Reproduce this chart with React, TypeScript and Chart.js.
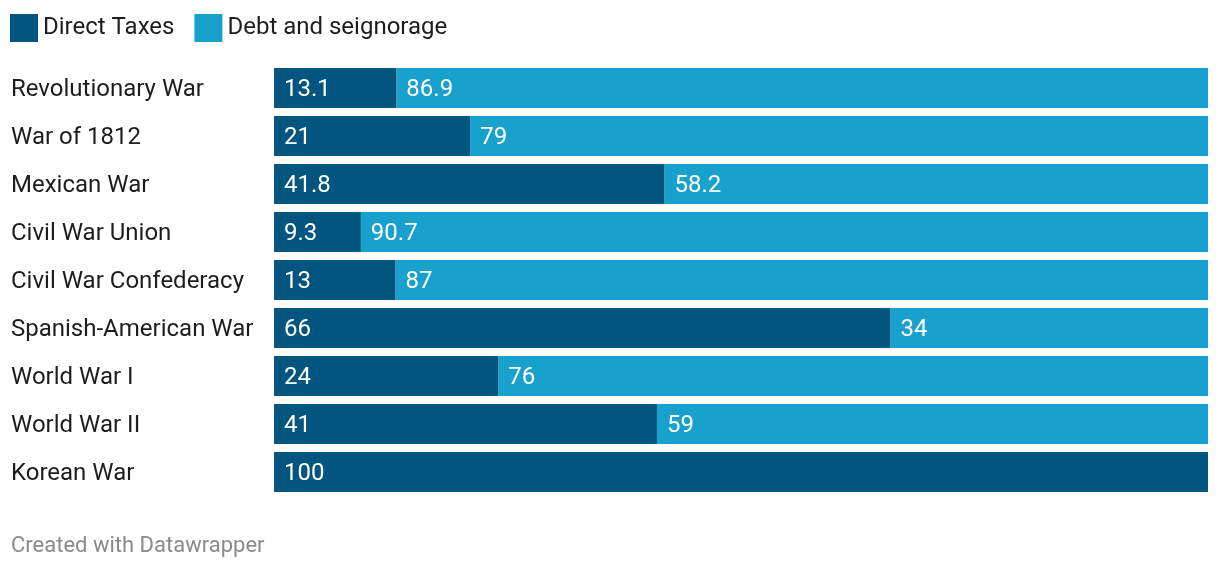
import React, { useEffect, useRef } from "react";
import { Chart, registerables } from "chart.js";

Chart.register(...registerables);

const categories = [
  "Revolutionary War",
  "War of 1812",
  "Mexican War",
  "Civil War Union",
  "Civil War Confederacy",
  "Spanish-American War",
  "World War I",
  "World War II",
  "Korean War",
];
const directTaxes = [13.1, 21, 41.8, 9.3, 13, 66, 24, 41, 100];
const debtSeignorage = [86.9, 79, 58.2, 90.7, 87, 34, 76, 59, 0];
const seriesNames = ["Direct Taxes", "Debt and seignorage"];
const seriesColors = ["#01557e", "#18a1cd"];
const footerText = "Created with Datawrapper";

const FONT = "Roboto, 'Noto Sans', sans-serif";

const valueLabels = {
  id: "valueLabels",
  afterDatasetsDraw(chart: any) {
    const ctx = chart.ctx;
    ctx.save();
    ctx.font = `24px ${FONT}`;
    ctx.fillStyle = "#ffffff";
    ctx.textAlign = "left";
    ctx.textBaseline = "middle";
    chart.data.datasets.forEach((ds: any, di: number) => {
      const meta = chart.getDatasetMeta(di);
      meta.data.forEach((bar: any, i: number) => {
        const v = ds.data[i];
        if (!v) return;
        const p = bar.getProps(["x", "y", "base"], true);
        const left = Math.min(p.x, p.base);
        ctx.fillText(String(v), left + 10, p.y + 2);
      });
    });
    ctx.restore();
  },
};

const topLegend = {
  id: "topLegend",
  afterDraw(chart: any) {
    const ctx = chart.ctx;
    ctx.save();
    ctx.font = `24px ${FONT}`;
    ctx.textAlign = "left";
    ctx.textBaseline = "middle";
    let x = 10;
    const y = 14;
    chart.data.datasets.forEach((ds: any) => {
      ctx.fillStyle = ds.backgroundColor;
      ctx.fillRect(x, y, 28, 28);
      ctx.fillStyle = "#1d1d1d";
      ctx.fillText(ds.label, x + 33, y + 14);
      x += 33 + ctx.measureText(ds.label).width + 20;
    });
    ctx.restore();
  },
};

export default function App() {
  const canvasRef = useRef<HTMLCanvasElement | null>(null);

  useEffect(() => {
    const canvas = canvasRef.current;
    if (!canvas) return;
    const chart = new Chart(canvas, {
      type: "bar",
      data: {
        labels: categories,
        datasets: [
          {
            label: seriesNames[0],
            data: directTaxes,
            backgroundColor: seriesColors[0],
            borderWidth: 0,
            categoryPercentage: 1,
            barPercentage: 40 / 48,
          },
          {
            label: seriesNames[1],
            data: debtSeignorage,
            backgroundColor: seriesColors[1],
            borderWidth: 0,
            categoryPercentage: 1,
            barPercentage: 40 / 48,
          },
        ],
      },
      options: {
        indexAxis: "y",
        animation: false,
        responsive: true,
        maintainAspectRatio: false,
        layout: { padding: { left: 11, right: 12, top: 64, bottom: 0 } },
        scales: {
          x: { stacked: true, min: 0, max: 100, display: false },
          y: {
            stacked: true,
            grid: { display: false },
            border: { display: false },
            afterFit: (scale: any) => {
              scale.width = 263;
            },
            ticks: {
              crossAlign: "far",
              labelOffset: 2,
              color: "#1d1d1d",
              font: { family: FONT, size: 24 },
            },
          },
        },
        plugins: {
          legend: { display: false },
          tooltip: { enabled: false },
          title: {
            display: true,
            position: "bottom",
            align: "start",
            text: footerText,
            color: "#8a8a8a",
            font: { family: FONT, size: 22, weight: "normal" },
            padding: { top: 37, bottom: 10.6 },
          },
        },
      },
      plugins: [valueLabels, topLegend],
    });
    return () => chart.destroy();
  }, []);

  return (
    <div style={{ position: "fixed", left: 0, top: 0, width: 1220, height: 570, background: "#fff" }}>
      <canvas ref={canvasRef} />
    </div>
  );
}
